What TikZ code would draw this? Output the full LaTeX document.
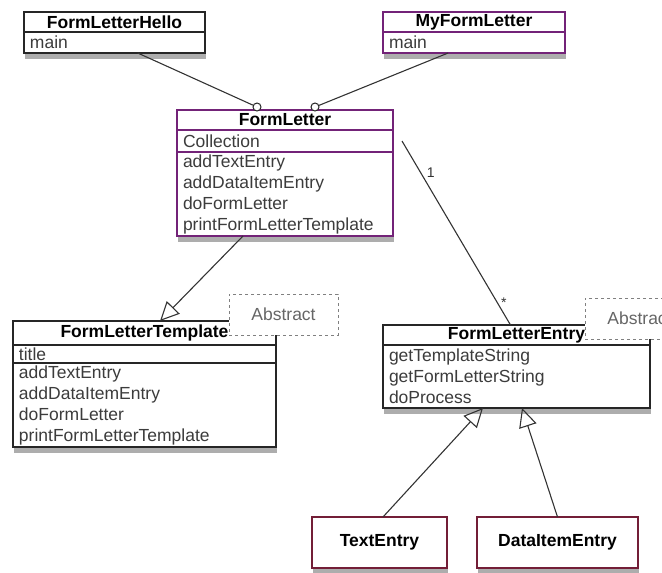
\documentclass[tikz,border=0pt]{standalone}
\usepackage{fontspec}
\setmainfont{Liberation Sans}
\usepackage{xcolor}
\usetikzlibrary{calc,positioning,shadows,arrows.meta}

\definecolor{umlpurple}{RGB}{115,35,120}
\definecolor{umlmaroon}{RGB}{115,30,55}
\definecolor{itemgray}{RGB}{60,60,60}

\begin{document}
\begin{tikzpicture}[x=1pt,y=-1pt,
    every node/.style={font=\fontsize{17.5}{21}\selectfont},
    umlbox/.style={draw=black!85, fill=white, outer sep=0pt, inner xsep=6pt, inner ysep=0pt, line width=1.3pt},
    head/.style={umlbox, align=center, font=\fontsize{17.5}{21}\selectfont\bfseries},
    field/.style={umlbox, align=left, text=itemgray},
    mine/.style={draw=umlpurple, line width=2.4pt},
    shade/.style={drop shadow={shadow xshift=1pt, shadow yshift=-6pt, opacity=0.4, fill=black!80}},
    leaf/.style={draw=umlmaroon, line width=2.4pt, fill=white, outer sep=0pt, inner sep=0pt,
      minimum height=51pt, font=\fontsize{17.5}{21}\selectfont\bfseries, shade},
    note/.style={draw=gray, dashed, line width=1pt, fill=white, text=gray!80!black,
      minimum width=109pt, minimum height=41pt, outer sep=0pt},
    ball/.style={circle, draw=black!85, fill=white, line width=1pt, minimum size=8pt, inner sep=0pt},
    assoc/.style={draw=black!80, line width=1.1pt},
    gen/.style={assoc, -{Triangle[open, length=19pt, width=18pt, line width=1.1pt]}},
    mult/.style={font=\fontsize{14}{16}\selectfont, text=black!80, inner sep=1pt}]
  \useasboundingbox (0,0) rectangle (662,573);
  \clip (0,0) rectangle (662,573);

  % top classes
  \node[head, text width=169pt, minimum height=20pt, anchor=north west] (hellotitle) at (24,12) {FormLetterHello};
  \node[field, text width=169pt, minimum height=21pt, below=0pt of hellotitle, shade] (hellomain) {main};
  \node[head, mine, text width=170pt, minimum height=20pt, anchor=north west] (mytitle) at (383,12) {MyFormLetter};
  \node[field, mine, text width=170pt, minimum height=21pt, below=0pt of mytitle, shade] (mymain) {main};

  % FormLetter
  \node[head, mine, text width=204pt, minimum height=20pt, anchor=north west] (fltitle) at (177,110) {FormLetter};
  \node[field, mine, text width=204pt, minimum height=22pt, below=0pt of fltitle] (flattr) {Collection};
  \node[field, mine, text width=204pt, minimum height=84pt, below=0pt of flattr, shade] (flops)
    {addTextEntry\\addDataItemEntry\\doFormLetter\\printFormLetterTemplate};
  \node[ball] (b1) at ($(fltitle.north west)+(80,-3)$) {};
  \node[ball] (b2) at ($(fltitle.north west)+(138,-3)$) {};

  % FormLetterTemplate
  \node[head, text width=251pt, minimum height=24pt, anchor=north west] (flttitle) at (13,321) {FormLetterTemplate};
  \node[field, text width=251pt, minimum height=18pt, below=0pt of flttitle] (fltattr) {title};
  \node[field, text width=251pt, minimum height=84pt, below=0pt of fltattr, shade] (fltops)
    {addTextEntry\\addDataItemEntry\\doFormLetter\\printFormLetterTemplate};
  \node[note] (abs1) at (283.5,314.5) {Abstract};

  % FormLetterEntry
  \node[head, text width=255pt, minimum height=20pt, anchor=north west] (fletitle) at (383,325) {FormLetterEntry};
  \node[field, text width=255pt, minimum height=63pt, below=0pt of fletitle, shade] (fleops)
    {getTemplateString\\getFormLetterString\\doProcess};
  \node[note] (abs2) at (639.5,318.5) {Abstract};

  % subclasses
  \node[leaf, minimum width=135pt, anchor=north west] (textentry) at (312,517) {TextEntry};
  \node[leaf, minimum width=161pt, anchor=north west] (dataentry) at (477,517) {DataItemEntry};

  % connectors
  \draw[assoc] (hellomain) -- (b1);
  \draw[assoc] (mymain) -- (b2);
  \draw[assoc] ($(flattr.east)+(9,0)$) -- node[mult, pos=0.17, right=5pt] {1}
    node[mult, pos=0.88, right=2pt] {*} ($(fletitle.north)+(-6,0)$);
  \draw[gen] ($(flops.south west)+(66,0)$) -- ($(flttitle.north west)+(147,0)$);
  \draw[gen] ($(textentry.north west)+(71,0)$) -- ($(fleops.south west)+(100,0)$);
  \draw[gen] (dataentry.north) -- ($(fleops.south west)+(139,0)$);
\end{tikzpicture}
\end{document}
